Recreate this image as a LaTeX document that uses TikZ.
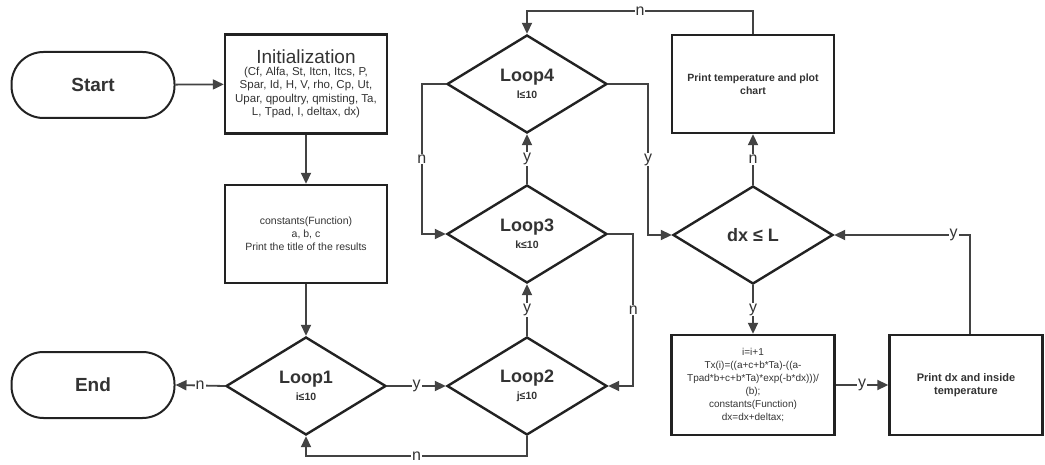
\documentclass[tikz,border=0pt]{standalone}
\usepackage{fontspec}
\setmainfont{Liberation Sans}
\usetikzlibrary{shapes.geometric,arrows.meta}
\definecolor{ink}{HTML}{222222}
\definecolor{txt}{HTML}{333333}
\tikzset{
  box/.style={draw=ink,line width=2.4pt,rectangle,inner sep=2pt,align=center,text=txt},
  term/.style={draw=ink,line width=2pt,rectangle,rounded corners=32pt,minimum width=163pt,minimum height=66pt,font=\bfseries\fontsize{19}{22}\selectfont,text=txt},
  dia/.style={draw=ink,line width=2.4pt,diamond,aspect=1.6,inner sep=0pt,minimum width=160pt,minimum height=98pt,align=center,text=txt},
  arr/.style={draw=ink!85,line width=1.8pt,-{Triangle[length=11pt,width=10pt]}},
  lbl/.style={fill=white,inner sep=1pt,text=txt,font=\fontsize{16}{16}\selectfont}
}
\begin{document}
\begin{tikzpicture}[x=1pt,y=-1pt]
\useasboundingbox (0,0) rectangle (1045,465);
% nodes
\node[term] (start) at (93,85) {Start};
\node[term] (endn) at (93,385) {End};
\node[box,minimum width=162pt,minimum height=99pt,font=\fontsize{11.5}{13.5}\selectfont] (init) at (306,84)
  {{\fontsize{19}{22}\selectfont Initialization}\\[-2pt]
   (Cf, Alfa, St, Itcn, Itcs, P,\\ Spar, Id, H, V, rho, Cp, Ut,\\ Upar, qpoultry, qmisting, Ta,\\ L, Tpad, I, deltax, dx)};
\node[box,minimum width=162pt,minimum height=98pt,font=\fontsize{10.5}{13}\selectfont] (cons) at (306,234)
  {constants(Function)\\ a, b, c\\ Print the title of the results};
\node[dia] (loop1) at (306,386) {{\bfseries\fontsize{18}{22}\selectfont Loop1}\\[5pt]{\bfseries\fontsize{10.5}{12}\selectfont i≤10}};
\node[dia] (loop2) at (527,386) {{\bfseries\fontsize{18}{22}\selectfont Loop2}\\[5pt]{\bfseries\fontsize{10.5}{12}\selectfont j≤10}};
\node[dia] (loop3) at (527,234) {{\bfseries\fontsize{18}{22}\selectfont Loop3}\\[5pt]{\bfseries\fontsize{10.5}{12}\selectfont k≤10}};
\node[dia] (loop4) at (527,84) {{\bfseries\fontsize{18}{22}\selectfont Loop4}\\[5pt]{\bfseries\fontsize{10.5}{12}\selectfont l≤10}};
\node[dia,font=\bfseries\fontsize{18}{22}\selectfont] (dxl) at (753,235) {dx ≤ L};
\node[box,minimum width=162pt,minimum height=98pt,font=\bfseries\fontsize{10.5}{13}\selectfont] (ptemp) at (753,84)
  {Print temperature and plot\\ chart};
\node[box,minimum width=163pt,minimum height=100pt,font=\fontsize{10}{13}\selectfont] (calc) at (753,385)
  {i=i+1\\ Tx(i)=((a+c+b*Ta)-((a-\\ Tpad*b+c+b*Ta)*exp(-b*dx)))/\\ (b);\\ constants(Function)\\ dx=dx+deltax;};
\node[box,minimum width=153pt,minimum height=100pt,font=\bfseries\fontsize{11}{13.5}\selectfont] (pdx) at (966,385)
  {Print dx and inside\\ temperature};
% connectors
\draw[arr] (start) -- (init);
\draw[arr] (init) -- (cons);
\draw[arr] (cons) -- (loop1);
\draw[arr] (loop1.west) -- node[lbl]{n} (endn.east);
\draw[arr] (loop1.east) -- node[lbl]{y} (loop2.west);
\draw[arr] (loop2.south) -- ++(0,20) -| node[pos=0.25,lbl]{n} (loop1.south);
\draw[arr] (loop2.north) -- node[lbl]{y} (loop3.south);
\draw[arr] (loop3.east) -- ++(25,0) |- node[pos=0.25,lbl]{n} (loop2.east);
\draw[arr] (loop3.north) -- node[lbl]{y} (loop4.south);
\draw[arr] (loop4.west) -- ++(-24,0) |- node[pos=0.25,lbl]{n} (loop3.west);
\draw[arr] (loop4.east) -- ++(40,0) |- node[pos=0.25,lbl]{y} (dxl.west);
\draw[arr] (dxl.north) -- node[lbl]{n} (ptemp.south);
\draw[arr] (dxl.south) -- node[lbl]{y} (calc.north);
\draw[arr] (calc.east) -- node[lbl]{y} (pdx.west);
\draw[arr] ([xshift=4pt]pdx.north) |- node[pos=0.56,lbl]{y} (dxl.east);
\draw[arr] (ptemp.north) -- ++(0,-23) -| node[pos=0.25,lbl]{n} (loop4.north);
\end{tikzpicture}
\end{document}
